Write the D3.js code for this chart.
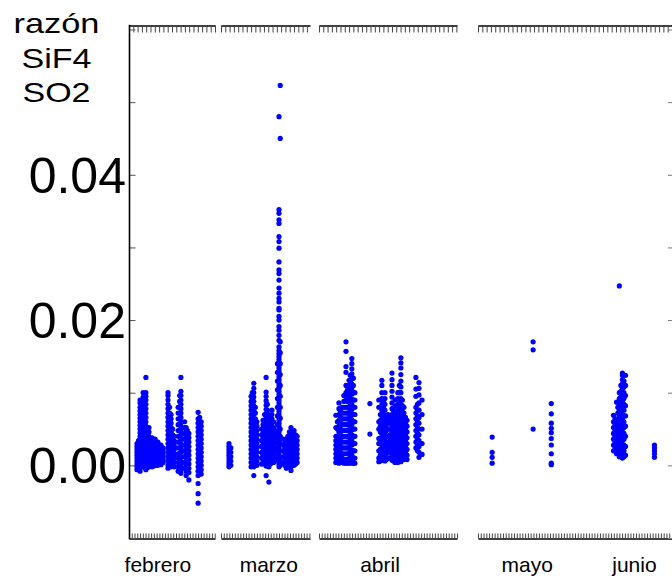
<!DOCTYPE html>
<html><head><meta charset="utf-8">
<script src="https://cdn.jsdelivr.net/npm/d3@7/dist/d3.min.js"></script>
<style>body{margin:0;background:#fff}svg{display:block}</style>
</head><body>
<svg id="c" width="672" height="580"></svg>
<script>
// ---- DATA (day within panel, values of the SiF4/SO2 ratio in units of 1e-4) ----
const febrero = [
  [3.6, [30,26,22,18,14,10,6,2,-2,-6]],
  [4.1, [34,28,22,16,10,4,-2]],
  [4.6, [90,86,80,75,70,65,60,55,50,45,40,36,32,28,24,20,16,12,8,4,0,-4,-8]],
  [5.1, [88,80,72,64,56,48,40,32,24,16,8,0]],
  [5.6, [100,94,88,82,76,70,64,58,52,46,40,34,28,22,16,10,4,-2]],
  [6.0, [70,62,54,46,38,30,22,14,6,-2]],
  [6.5, [121,100,95,90,84,78,72,66,60,54,48,42,36,30,24,18,12,6,0,-6]],
  [7.0, [44,36,28,20,12,4,-3]],
  [7.5, [52,46,40,34,28,22,16,10,4,-2]],
  [8.0, [36,30,24,18,12,6,0]],
  [8.5, [38,34,30,26,22,18,14,10,6,2,-2]],
  [9.0, [34,28,22,16,10,4,-1]],
  [9.5, [36,32,28,24,20,16,12,8,4,0]],
  [10.0, [30,24,18,12,6,0]],
  [10.4, [32,28,24,20,16,12,8,4,0]],
  [11.0, [28,22,16,10,4]],
  [11.4, [28,24,20,16,12,8,4,1]],
  [12.1, [24,20,16,12,8,4]],
  [13.7, [100,96,90,84,78,72,66,60,54,48,42,36,30,24,18,12,6,0,-4]],
  [14.2, [80,72,64,56,48,40,32,24,16,8,0]],
  [14.7, [70,64,58,52,46,40,34,28,22,16,10,4,-2]],
  [15.2, [50,42,34,26,18,10,2]],
  [15.7, [40,34,28,22,16,10,4,-2]],
  [17.0, [80,72,64,56,48,40,32,24,16,10,4,-2,-8]],
  [17.5, [96,88,80,72,64,56,48,40,32,24,16,8,0,-8]],
  [17.9, [121,102,96,90,84,78,72,66,60,54,48,42,36,30,24,18,12,6,0,-6,-11]],
  [19.1, [60,52,44,36,28,20,12,4,-4]],
  [19.6, [52,46,40,34,28,22,16,10,4,-2,-8,-14]],
  [20.0, [48,40,32,24,16,8,0,-8]],
  [20.5, [44,38,32,26,20,14,8,2,-4,-10,-20]],
  [23.5, [73,64,58,52,46,40,34,28,22,16,10,4,-2,-8,-14,-25,-39,-52]],
  [24.0, [66,58,50,42,34,26,18,10,2,-6]],
  [24.5, [60,54,48,42,36,30,24,18,12,6,0,-6,-12]]
];
const marzo = [
  [3.6, [30,26,22,18,14,10,6,2,-2]],
  [4.2, [24,18,12,6,0]],
  [10.8, [95,88,82,76,70,64,58,52,46,40,34,28,22,16,10,4,-2]],
  [11.2, [100,92,84,76,68,60,52,44,36,28,20,12,4]],
  [11.7, [113,106,100,94,88,82,76,70,64,58,52,46,40,34,28,22,16,10,4,-2,-14]],
  [12.2, [80,72,64,56,48,40,32,24,16,8,0]],
  [12.7, [60,54,48,42,36,30,24,18,12,6,0]],
  [14.2, [50,42,34,26,18,10,2]],
  [14.7, [62,56,50,44,38,32,26,20,14,8,2]],
  [15.2, [70,62,54,46,38,30,22,14,6]],
  [15.7, [121,101,95,89,83,77,71,65,59,53,47,41,35,29,23,17,11,5,-1,-14]],
  [16.1, [84,76,68,60,52,44,36,28,20,12,4]],
  [16.6, [70,64,58,52,46,40,34,28,22,16,10,4,-2,-23]],
  [17.1, [66,58,50,42,34,26,18,10,2]],
  [17.6, [76,70,64,58,52,46,40,34,28,22,16,10,4]],
  [18.1, [60,52,44,36,28,20,12,4]],
  [18.6, [48,42,36,30,24,18,12,6]],
  [19.4, [140,128,116,104,92,80,68,56,44,32,20,8]],
  [19.9, [480,352,347,338,333,315,308,299,280,269,264,255,244,237,230,225,216,214,205,200,191,186,179,172,163,158,154,150,146,142,138,134,130,126,122,118,114,110,106,102,98,94,90,86,82,78,74,70,66,62,58,54,50,46,42,38,34,30,26,22,18,14,10,6,2,-2]],
  [20.3, [523,450,170,155,140,125,110,95,80,65,50,40,30,20,10,0]],
  [21.3, [36,28,20,12,4]],
  [21.8, [30,24,18,12,6,0]],
  [22.3, [36,28,20,12,4,-4]],
  [22.8, [40,34,28,22,16,10,4,-2]],
  [23.3, [46,38,30,22,14,6,-2]],
  [23.8, [52,46,40,34,28,22,16,10,4,-2,-7]],
  [24.3, [44,36,28,20,12,4]],
  [24.8, [48,42,36,30,24,18,12,6,0]],
  [25.3, [42,34,26,18,10,2]],
  [25.8, [40,34,28,22,16,10,4]]
];
const abril = [
  [6.5, [69,52,40,34,28,22,16,10,4]],
  [7.0, [60,50,40,30,20,10,4]],
  [7.5, [86,78,70,62,54,46,38,32,26,20,14,8,3]],
  [8.0, [74,66,58,50,42,34,26,18,10,4]],
  [8.5, [80,72,64,56,48,40,32,24,16,10,4]],
  [9.1, [96,88,80,72,64,56,48,40,32,24,16,8,3]],
  [9.8, [170,157,136,128,110,100,90,80,72,64,56,48,40,32,24,16,8,3]],
  [10.3, [104,96,88,80,72,64,56,48,40,32,24,16,8,3]],
  [10.8, [117,110,102,95,88,80,72,64,56,48,40,32,24,16,8,3]],
  [11.2, [124,116,108,100,92,84,76,68,60,52,44,36,28,20,12,4]],
  [11.7, [147,140,133,126,119,112,105,98,91,84,77,70,63,56,49,42,35,28,21,14,7,3]],
  [12.2, [120,110,100,90,80,70,60,50,40,30,20,10,3]],
  [12.7, [100,90,80,70,60,50,40,30,20,10,3]],
  [17.6, [85,43]],
  [20.5, [90,80,60,50,37,30,20,10,5]],
  [21.0, [70,62,54,46,38,30,22,14,6]],
  [21.5, [117,110,100,92,84,76,68,60,52,44,36,28,20,12,7]],
  [22.0, [88,80,72,64,56,48,40,32,24,16,8]],
  [22.5, [100,92,84,76,68,60,52,44,36,28,20,12,6]],
  [23.0, [64,56,48,40,32,24,16,8]],
  [23.5, [70,60,50,40,30,20,10]],
  [24.2, [66,58,50,42,34,26,18,10]],
  [24.8, [127,118,110,102,94,86,78,70,62,54,46,38,30,22,14,7]],
  [25.3, [76,68,60,52,44,36,28,20,12,6]],
  [25.8, [90,82,74,66,58,50,42,34,26,18,10,4]],
  [26.2, [70,62,54,46,38,30,22,14,6]],
  [26.7, [100,92,84,76,68,60,52,44,36,28,20,12,4]],
  [27.2, [110,100,90,80,70,62,54,46,38,30,22,14,6]],
  [27.7, [148,141,134,125,116,108,100,92,84,76,68,60,52,44,36,28,20,12,5]],
  [28.2, [90,82,74,66,58,50,42,34,26,18,10]],
  [28.7, [80,72,64,56,48,40,32,24,16,8]],
  [29.2, [66,58,50,42,34,26,18,10]],
  [29.7, [62,54,46,38,30,22,14,8]],
  [32.6, [121,105,95,80,72,64,56,48,40,32,24]],
  [33.1, [84,76,68,60,52,44,36,28,20]],
  [33.6, [114,106,97,86,76,66,58,50,42,34,26,18,11]],
  [34.6, [90,70,50,30,15]]
];
const mayo = [
  [5.6, [39,18,11,3]],
  [18.9, [170,159,50]],
  [24.8, [85,71,58,51,45,37,28,16,3,1]]
];
const junio = [
  [45.0, [69,60,52,44,36,28,20]],
  [45.5, [64,56,48,40,32,24]],
  [46.0, [87,62,54,46,38,30,22,16]],
  [46.4, [80,72,64,56,48,40,32,24,16]],
  [46.9, [247,100,92,84,76,68,60,52,44,36,28,20,12]],
  [47.4, [110,102,94,86,78,70,62,54,46,38,30,22,14]],
  [47.9, [127,124,118,112,106,100,94,88,82,76,70,64,58,52,46,40,34,28,22,16,10]],
  [48.4, [116,108,100,92,84,76,68,60,52,44,36,28,20,12]],
  [48.9, [124,110,96,82,68,54,40,26,14]],
  [58.3, [28,24,20,16,11]]
];
const yLabelTicks = [0, 0.02, 0.04];
const yMinorTicks = [-0.01, 0, 0.01, 0.02, 0.03, 0.04, 0.05, 0.06];
const titleLines = ["razón", "SiF4", "SO2"];
const monthLabels = [
  {text: "febrero", panel: 0, day: 10.4},
  {text: "marzo", panel: 1, day: 16.6},
  {text: "abril", panel: 2, day: 20.9},
  {text: "mayo", panel: 3, day: 17},
  {text: "junio", panel: 3, day: 51.8}
];

// ---- LAYOUT ----
const panels = [
  {domain: [1, 29], range: [129, 215], series: [febrero]},
  {domain: [1, 30], range: [221, 310], series: [marzo]},
  {domain: [1, 46], range: [319, 457], series: [abril]},
  {domain: [1, 64], range: [478, 672], series: [mayo, junio]}
];
const yTop = 25.5, yBot = 538.5;
const font = "'Liberation Sans', Arial, sans-serif";
const svg = d3.select("#c");
const y = d3.scaleLinear().domain([-0.01, 0.06]).range([538, 29.5]);

panels.forEach(p => {
  p.x = d3.scaleLinear().domain(p.domain).range(p.range);
  const topTicks = d3.range(p.domain[0], p.domain[1] + 1e-9, 1.4);
  const botTicks = d3.range(p.domain[0], p.domain[1] + 1e-9, 0.9);
  const gt = svg.append("g").attr("transform", `translate(0,${yTop})`)
    .call(d3.axisBottom(p.x).tickValues(topTicks).tickSize(7).tickSizeOuter(0).tickFormat(""));
  const gb = svg.append("g").attr("transform", `translate(0,${yBot})`)
    .call(d3.axisTop(p.x).tickValues(botTicks).tickSize(5).tickSizeOuter(0).tickFormat(""));
  [gt, gb].forEach(g => {
    g.select(".domain").attr("stroke", "#000").attr("stroke-width", 1.6);
    g.selectAll(".tick line").attr("stroke", "#444").attr("stroke-width", 1);
  });
});

// left axis
const gl = svg.append("g").attr("transform", "translate(129.5,0)")
  .call(d3.axisRight(y).tickValues(yMinorTicks).tickSize(6).tickSizeOuter(0).tickFormat(""));
gl.select(".domain").remove();
gl.selectAll(".tick line").attr("stroke", "#555");
svg.append("line").attr("x1", 129.5).attr("x2", 129.5).attr("y1", yTop - 0.8).attr("y2", yBot + 0.8)
  .attr("stroke", "#000").attr("stroke-width", 1.6);

// right axis ticks
const gr = svg.append("g").attr("transform", "translate(672,0)")
  .call(d3.axisLeft(y).tickValues(yMinorTicks).tickSize(4).tickSizeOuter(0).tickFormat(""));
gr.select(".domain").remove();
gr.selectAll(".tick line").attr("stroke", "#777");

// y labels
svg.append("g").selectAll("text").data(yLabelTicks).join("text")
  .attr("x", 126).attr("y", d => y(d) + 18)
  .attr("text-anchor", "end").attr("font-family", font).attr("font-size", 50)
  .attr("fill", "#000").text(d3.format(".2f"));

// title
const titleY = [33, 68, 102], titleW = [86, 70, 68];
svg.append("g").selectAll("text").data(titleLines).join("text")
  .attr("x", (d, i) => 56.5 - titleW[i] / 2).attr("y", (d, i) => titleY[i])
  .attr("textLength", (d, i) => titleW[i]).attr("lengthAdjust", "spacingAndGlyphs")
  .attr("font-family", font).attr("font-size", 28).attr("fill", "#000").text(d => d);

// month labels
svg.append("g").selectAll("text").data(monthLabels).join("text")
  .attr("x", d => panels[d.panel].x(d.day)).attr("y", 572)
  .attr("text-anchor", "middle").attr("font-family", font).attr("font-size", 21)
  .attr("fill", "#000").text(d => d.text);

// points
panels.forEach(p => {
  const pts = p.series.flatMap(s => s.flatMap(([day, vals]) => vals.map(v => ({day, v: v * 1e-4}))));
  svg.append("g").selectAll("circle").data(pts).join("circle")
    .attr("cx", d => p.x(d.day)).attr("cy", d => y(d.v)).attr("r", 2.6)
    .attr("fill", "#0000ff");
});
</script>
</body></html>
